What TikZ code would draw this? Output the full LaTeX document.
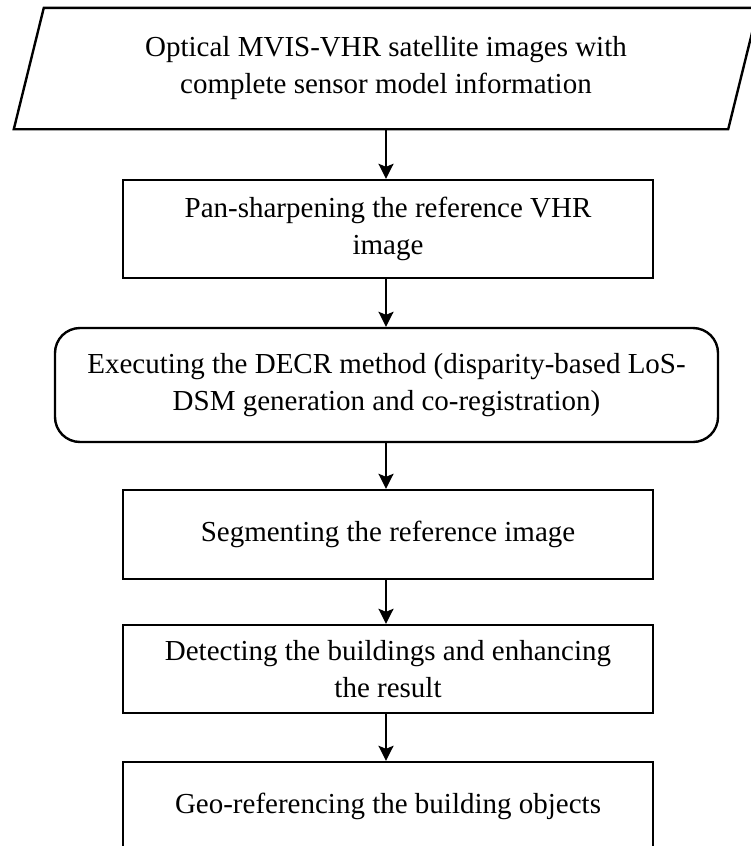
\documentclass[tikz,border=0pt]{standalone}
\usepackage{fontspec}
\setmainfont{Liberation Serif}
\usetikzlibrary{arrows.meta}
\begin{document}
\begin{tikzpicture}[x=1pt,y=-1pt,
  txt/.style={font=\fontsize{29}{37}\selectfont, align=center, inner sep=0pt},
  stepbox/.style={txt, draw, line width=2.4pt, minimum width=530pt},
  roundbox/.style={txt, draw, line width=2.4pt, rounded corners=25pt, minimum width=663pt},
  arr/.style={line width=2.4pt, -{Stealth[length=15pt, width=15pt, inset=3pt]}}]
\useasboundingbox (0,0) rectangle (750,846);

% input data (parallelogram drawn around an invisible node)
\node[txt, minimum width=714pt, minimum height=121pt] (input) at (386,68.5)
  {Optical MVIS-VHR satellite images with\\complete sensor model information};
\draw[line width=2.4pt, line join=miter]
  ([xshift=-15pt]input.south west) -- ([xshift=15pt]input.north west)
  -- ([xshift=15pt]input.north east) -- ([xshift=-15pt]input.south east) -- cycle;

% processing steps
\node[stepbox, minimum height=98pt] (pan) at (388,229)
  {Pan-sharpening the reference VHR\\image};
\node[roundbox, minimum height=114pt] (decr) at (386.5,385)
  {Executing the DECR method (disparity-based LoS-\\DSM generation and co-registration)};
\node[stepbox, minimum height=89pt] (seg) at (388,534.5)
  {Segmenting the reference image};
\node[stepbox, minimum height=88pt] (det) at (388,669)
  {Detecting the buildings and enhancing\\the result};
\node[stepbox, minimum height=89pt] (geo) at (388,806.5)
  {Geo-referencing the building objects};

% flow arrows
\draw[arr] (input.south -| 386,0) -- (pan.north -| 386,0);
\draw[arr] (pan.south -| 386,0) -- (decr.north -| 386,0);
\draw[arr] (decr.south -| 386,0) -- (seg.north -| 386,0);
\draw[arr] (seg.south -| 386,0) -- (det.north -| 386,0);
\draw[arr] (det.south -| 386,0) -- (geo.north -| 386,0);
\end{tikzpicture}
\end{document}
